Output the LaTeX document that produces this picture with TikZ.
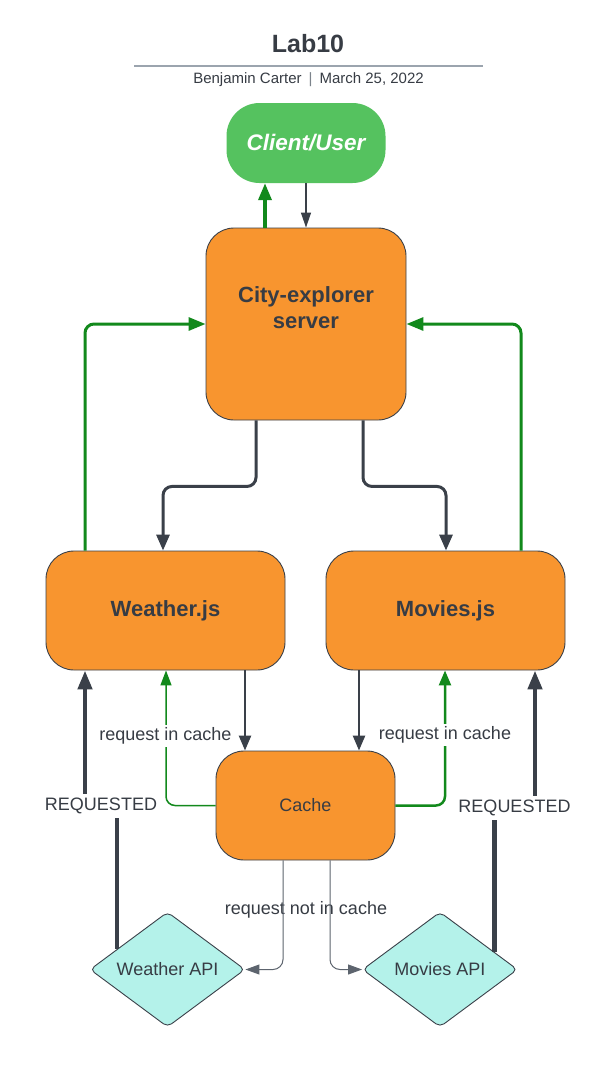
\documentclass[tikz,border=0pt]{standalone}
\usepackage{fontspec}
\setmainfont{Liberation Sans}
\usetikzlibrary{arrows.meta,shapes.geometric,calc}
\definecolor{orng}{HTML}{F8952F}
\definecolor{grn}{HTML}{12891C}
\definecolor{clientg}{HTML}{55C25F}
\definecolor{dk}{HTML}{3A4049}
\definecolor{aqua}{HTML}{B4F2EA}
\definecolor{txt}{HTML}{373C44}
\definecolor{rulec}{HTML}{9BA4AE}
\definecolor{thin}{HTML}{5D646E}
\begin{document}
\begin{tikzpicture}[x=1pt,y=-1pt,
  box/.style={draw=dk, line width=0.9pt, fill=orng, rounded corners=28pt, inner sep=0pt, text=txt, align=center},
  boldtxt/.style={font=\fontsize{22}{26}\selectfont\bfseries},
  lbl/.style={font=\fontsize{18}{21}\selectfont, text=txt, inner sep=2pt},
  api/.style={diamond, draw=dk, line width=0.9pt, fill=aqua, minimum width=155pt, minimum height=115pt, inner sep=0pt, rounded corners=5pt, font=\fontsize{18}{21}\selectfont, text=txt},
  darr/.style={draw=dk, line width=3pt, rounded corners=9pt, -{Triangle[length=16pt,width=13pt]}},
  garr/.style={draw=grn, line width=3pt, rounded corners=9pt, -{Triangle[length=17pt,width=13pt]}},
  midarr/.style={draw=dk, line width=2.5pt, -{Triangle[length=15pt,width=12pt]}},
  gthin/.style={draw=grn, line width=1.5pt, rounded corners=9pt, -{Triangle[length=15pt,width=11pt]}},
  gmid/.style={draw=grn, line width=2.5pt, rounded corners=9pt, -{Triangle[length=15pt,width=12pt]}},
  reqline/.style={draw=dk, line width=4.5pt},
  reqarr/.style={draw=dk, line width=4.5pt, -{Triangle[length=19pt,width=14pt]}},
  thinarr/.style={draw=thin, line width=1pt, rounded corners=10pt, -{Triangle[length=14pt,width=10pt]}},
  cdown/.style={draw=dk, line width=1.3pt, -{Triangle[length=15pt,width=10pt]}}
]
\fill[white] (0,0) rectangle (609,1072);
\useasboundingbox (0,0) rectangle (609,1072);

% header
\node[font=\fontsize{25}{30}\selectfont\bfseries, text=txt] (title) at (308,44) {Lab10};
\coordinate (ruleL) at (134,66);
\coordinate (ruleR) at (483,66);
\draw[rulec, line width=1.5pt] (ruleL) -- (ruleR);
\node[font=\fontsize{15}{18}\selectfont, text=txt] (sub) at (308.5,80) {Benjamin Carter\hspace{7pt}{\color{rulec!80!black}|}\hspace{7pt}March 25, 2022};

% nodes
\node[fill=clientg, rounded corners=33pt, minimum width=159pt, minimum height=80pt, inner sep=0pt,
      text=white, font=\fontsize{22.5}{27}\selectfont\bfseries\itshape] (cli) at (306,143) {Client/User};
\node[box, boldtxt, minimum width=200pt, minimum height=192pt] (srv) at (306,324) {City-explorer\\server\\[6pt]};
\node[box, boldtxt, minimum width=239pt, minimum height=119pt] (wth) at (165.5,610.5) {Weather.js};
\node[box, boldtxt, minimum width=239pt, minimum height=119pt] (mov) at (445.5,610.5) {Movies.js};
\node[box, minimum width=179pt, minimum height=109pt, font=\fontsize{18}{21}\selectfont] (cache) at (305.5,805.5) {Cache};
\node[api] (wapi) at (167.5,969.5) {Weather API};
\node[api] (mapi) at (440,969.5) {Movies API};

% client <-> server
\draw[draw=grn, line width=3.5pt, -{Triangle[length=17pt,width=13pt]}] ([xshift=-41pt]srv.north) -- ([xshift=-41pt]cli.south);
\draw[cdown] (cli.south) -- (srv.north);

% js -> server (green)
\draw[garr] ([xshift=-80.5pt]wth.north) |- (srv.west);
\draw[garr] ([xshift=75.5pt]mov.north) |- (srv.east);

% server -> js (dark)
\draw[darr] ([xshift=-50pt]srv.south) -- ++(0,66) -| ([xshift=-2.5pt]wth.north);
\draw[darr] ([xshift=57pt]srv.south) -- ++(0,66) -| ([xshift=0.5pt]mov.north);

% js -> cache
\draw[midarr] ([xshift=79.5pt]wth.south) -- ([xshift=-60.5pt]cache.north);
\draw[midarr] ([xshift=-86.5pt]mov.south) -- ([xshift=53.5pt]cache.north);

% cache -> js (green)
\draw[gthin] (cache.west) -| ([xshift=0.5pt]wth.south);
\draw[gmid] (cache.east) -| ([xshift=-0.5pt]mov.south);
\node[lbl, fill=white, inner sep=3pt] (ricL) at (165.5,736) {request in cache};
\node[lbl, fill=white, inner sep=3pt] (ricR) at (445,735) {request in cache};

% REQUESTED
\node[lbl, inner sep=4pt] (reqL) at (101,806) {REQUESTED};
\node[lbl, inner sep=4pt] (reqR) at (514.5,808) {REQUESTED};
\coordinate (wL) at ($(wapi.west)!0.35!(wapi.north)$);
\coordinate (wthL) at ([xshift=-80.5pt]wth.south);
\draw[reqline] (wL) -- (wL |- reqL.south);
\draw[reqarr] (wthL |- reqL.north) -- (wthL);
\coordinate (mR) at ($(mapi.north)!0.7!(mapi.east)$);
\coordinate (movR) at ([xshift=89.5pt]mov.south);
\draw[reqline] (mR) -- (mR |- reqR.south);
\draw[reqarr] (movR |- reqR.north) -- (movR);

% request not in cache
\node[lbl] (rnic) at (306,910) {request not in cache};
\draw[thinarr] ([xshift=-22.5pt]cache.south) |- (wapi.east);
\draw[thinarr] ([xshift=24.5pt]cache.south) |- (mapi.west);
\end{tikzpicture}
\end{document}
